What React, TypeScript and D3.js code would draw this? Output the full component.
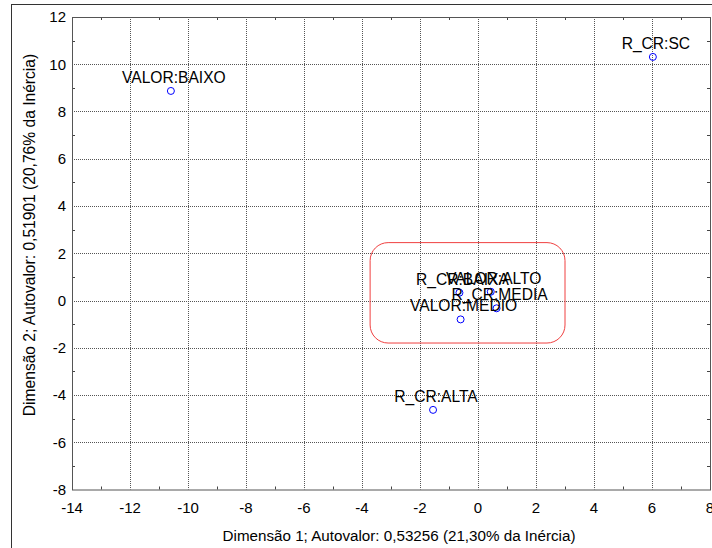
import { useEffect, useRef } from "react";
import * as d3 from "d3";

// categories and coordinates
const labels = ["VALOR:BAIXO", "R_CR:SC", "R_CR:ALTA", "VALOR:MEDIO", "R_CR:BAIXA", "VALOR:ALTO", "R_CR:MEDIA"];
const dim1 = [-10.59, 6.03, -1.55, -0.6, -0.64, 0.44, 0.64];
const dim2 = [8.87, 10.31, -4.63, -0.8, 0.33, 0.37, -0.33];

const xTicks = [-14, -12, -10, -8, -6, -4, -2, 0, 2, 4, 6, 8];
const yTicks = [-8, -6, -4, -2, 0, 2, 4, 6, 8, 10, 12];

// highlighted area (data units)
const boxX = [-3.72, 3.0];
const boxY = [-1.8, 2.45];

const xTitle = "Dimensão 1; Autovalor: 0,53256 (21,30% da Inércia)";
const yTitle = "Dimensão 2; Autovalor: 0,51901 (20,76% da Inércia)";

export default function App() {
  const ref = useRef<SVGSVGElement>(null);

  useEffect(() => {
    const svg = d3.select(ref.current);
    svg.selectAll("*").remove();
    const font = "Arial, 'Liberation Sans', sans-serif";

    const left = 72, right = 710, top = 17, bottom = 489.5;
    const x = d3.scaleLinear().domain([-14, 8]).range([left, right]);
    const y = d3.scaleLinear().domain([-8, 12]).range([bottom, top]);

    // outer frame
    svg.append("rect")
      .attr("x", 11.5).attr("y", 4.5)
      .attr("width", 800).attr("height", 700)
      .attr("fill", "white").attr("stroke", "#333");

    const g = svg.append("g");

    // dotted grid
    g.selectAll(".vgrid")
      .data(xTicks.filter(d => d > -14 && d < 8))
      .join("line")
      .attr("x1", d => Math.round(x(d)) + 0.5).attr("x2", d => Math.round(x(d)) + 0.5)
      .attr("y1", top).attr("y2", bottom)
      .attr("stroke", "#555").attr("stroke-dasharray", "1,1");
    g.selectAll(".hgrid")
      .data(yTicks.filter(d => d > -8 && d < 12))
      .join("line")
      .attr("y1", d => Math.round(y(d)) + 0.5).attr("y2", d => Math.round(y(d)) + 0.5)
      .attr("x1", left).attr("x2", right)
      .attr("stroke", "#555").attr("stroke-dasharray", "1,1");

    // minor ticks (odd values) on all sides, inward
    const xMinor = d3.range(-13, 8, 2);
    const yMinor = d3.range(-7, 12, 2);
    xMinor.forEach(v => {
      const px = Math.round(x(v)) + 0.5;
      g.append("line").attr("x1", px).attr("x2", px).attr("y1", bottom).attr("y2", bottom - 3).attr("stroke", "#444");
      g.append("line").attr("x1", px).attr("x2", px).attr("y1", top).attr("y2", top + 3).attr("stroke", "#444");
    });
    yMinor.forEach(v => {
      const py = Math.round(y(v)) + 0.5;
      g.append("line").attr("y1", py).attr("y2", py).attr("x1", left).attr("x2", left + 3).attr("stroke", "#444");
      g.append("line").attr("y1", py).attr("y2", py).attr("x1", right).attr("x2", right - 3).attr("stroke", "#444");
    });

    // plot frame
    g.append("rect")
      .attr("x", left + 0.5).attr("y", top + 0.5)
      .attr("width", right - left).attr("height", bottom - top)
      .attr("fill", "none").attr("stroke", "#555");

    // tick labels
    g.selectAll(".xt")
      .data(xTicks)
      .join("text")
      .attr("x", d => x(d)).attr("y", 513)
      .attr("text-anchor", "middle")
      .style("font-family", font).style("font-size", "15px")
      .text(d => d);
    g.selectAll(".yt")
      .data(yTicks)
      .join("text")
      .attr("x", 66).attr("y", d => y(d))
      .attr("dy", "0.35em")
      .attr("text-anchor", "end")
      .style("font-family", font).style("font-size", "15px")
      .text(d => d);

    // axis titles
    svg.append("text")
      .attr("x", 399).attr("y", 541)
      .attr("text-anchor", "middle")
      .style("font-family", font).style("font-size", "15.2px")
      .text(xTitle);
    svg.append("g")
      .attr("transform", `translate(35, 235)`)
      .append("text")
      .attr("transform", "rotate(-90)")
      .attr("text-anchor", "middle")
      .style("font-family", font).style("font-size", "15.6px")
      .text(yTitle);

    // highlight box
    g.append("rect")
      .attr("x", x(boxX[0])).attr("y", y(boxY[1]))
      .attr("width", x(boxX[1]) - x(boxX[0]))
      .attr("height", y(boxY[0]) - y(boxY[1]))
      .attr("rx", 18).attr("ry", 18)
      .attr("fill", "none").attr("stroke", "#f04040").attr("stroke-width", 1);

    const pts = labels.map((l, i) => ({ label: l, dx: dim1[i], dy: dim2[i] }));

    g.selectAll(".pt")
      .data(pts)
      .join("circle")
      .attr("cx", d => x(d.dx)).attr("cy", d => y(d.dy))
      .attr("r", 3.5)
      .attr("fill", "none").attr("stroke", "#0000ff").attr("stroke-width", 1);

    g.selectAll(".lbl")
      .data(pts)
      .join("text")
      .attr("x", d => x(d.dx) + 3).attr("y", d => y(d.dy) - 8)
      .attr("text-anchor", "middle")
      .style("font-family", font).style("font-size", "15.6px")
      .text(d => d.label);
  }, []);

  return (
    <svg ref={ref} width={712} height={548}
      style={{ position: "absolute", left: 0, top: 0, background: "white" }} />
  );
}
